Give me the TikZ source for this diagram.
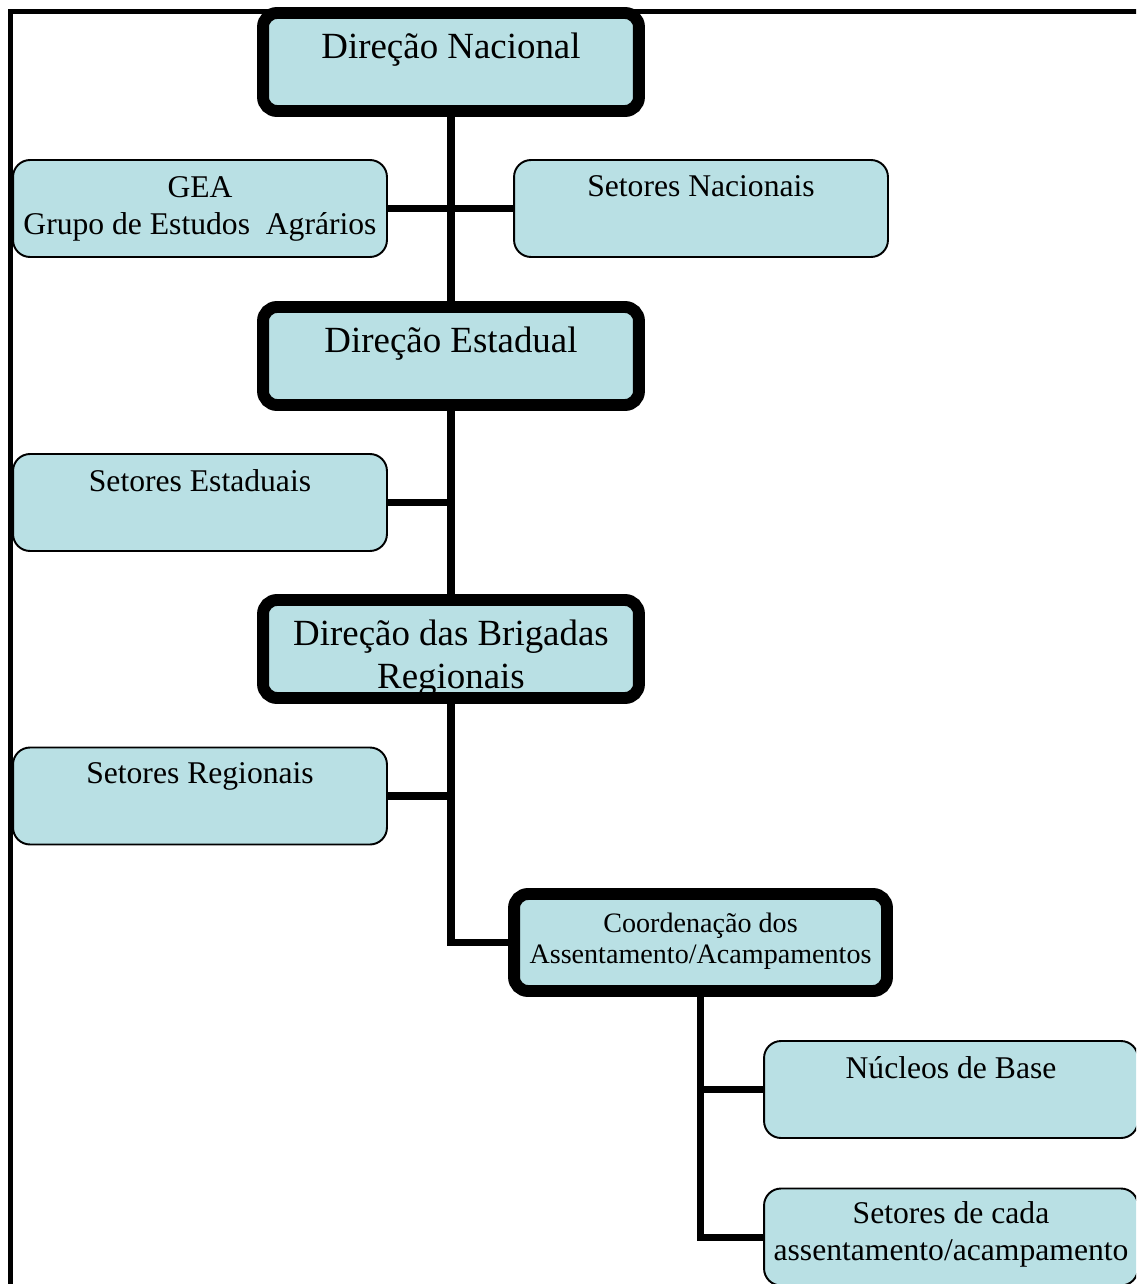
\documentclass[tikz,border=0pt]{standalone}
\usepackage{fontspec}
\setmainfont{Liberation Serif}
\usepackage{tikz}
\usetikzlibrary{positioning}
\usepackage{xcolor}
\definecolor{boxcyan}{RGB}{185, 224, 228}
\definecolor{linedark}{RGB}{0, 0, 0}

\begin{document}
\begin{tikzpicture}[
    x=0.02cm, y=-0.02cm,
    bigbox/.style={rectangle, draw=linedark, fill=boxcyan, rounded corners=0.28cm, line width=6.8pt, minimum width=7.52cm, minimum height=1.96cm, inner sep=0pt},
    thinbox/.style={rectangle, draw=linedark, fill=boxcyan, rounded corners=0.34cm, line width=1.1pt, minimum width=7.48cm, minimum height=1.94cm, inner sep=0pt},
    toptext/.style={anchor=north, inner sep=0pt, align=center, text=linedark},
    bigtext/.style={toptext, yshift=-0.52cm, font=\fontsize{21}{24}\selectfont},
    midtext/.style={toptext, yshift=-0.32cm, font=\fontsize{18}{21}\selectfont},
    link/.style={line width=4pt, draw=linedark},
    frame/.style={line width=2.6pt, draw=linedark},
]
\useasboundingbox (0,0) rectangle (1136,1284);
\clip (0,0) rectangle (1136,1284);

% Outer frame
\draw[frame] (10.5,1300) |- (1150,11.5);

% National level
\node[bigbox, label={[bigtext]north:Direção Nacional}] (dirnac) at (451, 62) {};
\node[thinbox, label={[midtext, yshift=-0.02cm]north:GEA\\Grupo de Estudos~ Agrários}] (gea) at (200, 208.5) {};
\node[thinbox, label={[midtext]north:Setores Nacionais}] (setnac) at (701, 208.5) {};

% State level
\node[bigbox, label={[bigtext]north:Direção Estadual}] (direst) at (451, 356) {};
\node[thinbox, label={[midtext]north:Setores Estaduais}] (setest) at (200, 502.5) {};

% Regional level
\node[bigbox, label={[bigtext]north:Direção das Brigadas\\Regionais}] (dirbrig) at (451, 649) {};
\node[thinbox, label={[midtext]north:Setores Regionais}] (setreg) at (200, 796) {};

% Settlements
\node[bigbox, minimum width=7.46cm, minimum height=1.94cm, label={[toptext, yshift=-0.5cm, font=\fontsize{16}{17.6}\selectfont]north:Coordenação dos\\Assentamento/Acampamentos}] (coord) at (700.5, 942.5) {};
\node[thinbox, label={[midtext]north:Núcleos de Base}] (nucleos) at (951, 1089.5) {};
\node[thinbox, label={[midtext, yshift=0.04cm]north:Setores de cada\\assentamento/acampamento}] (setcada) at (951, 1237) {};

% Connectors
\draw[link] (dirnac) -- (direst);
\draw[link] (gea) -- (setnac);
\draw[link] (direst) -- (dirbrig);
\draw[link] (setest.east) -- (setest.east -| direst.south);
\draw[link] (dirbrig.south) |- (coord.west);
\draw[link] (setreg.east) -- (setreg.east -| dirbrig.south);
\draw[link] (coord.south) |- (setcada.west);
\draw[link] (nucleos.west) -- (nucleos.west -| coord.south);

\end{tikzpicture}
\end{document}
